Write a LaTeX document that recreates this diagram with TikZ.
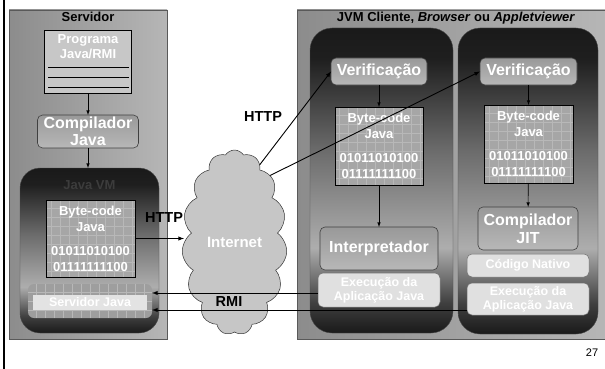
\documentclass[tikz,border=0pt]{standalone}
\usepackage{fontspec}
\setmainfont{Liberation Sans}
\usetikzlibrary{shapes,arrows,positioning,calc,shapes.symbols}

\definecolor{panelL}{HTML}{8C8C8C}
\definecolor{panelR}{HTML}{B6B6B6}
\definecolor{codefill}{HTML}{A6A6A6}
\definecolor{codegrid}{HTML}{B8B8B8}
\definecolor{lightfill}{HTML}{E0E0E0}
\definecolor{cloudfill}{HTML}{C6C6C6}
\definecolor{vmtext}{HTML}{3C3C3C}

% sombreamento das caixas da JVM (escuro em cima e em baixo)
\pgfdeclareverticalshading{vmshade}{100bp}{color(0bp)=(black!90); color(25bp)=(black!90); color(30bp)=(black!75);
  color(39bp)=(black!32); color(55bp)=(black!58); color(70bp)=(black!88); color(75bp)=(black!90); color(100bp)=(black!90)}

\tikzset{
  every node/.style={inner sep=0pt, outer sep=0pt},
  panel/.style={draw=black!65, line width=0.6pt, left color=panelL, right color=panelR},
  vmbox/.style={draw=black!70, rounded corners=20pt, shading=vmshade},
  btn/.style={draw=black!75, line width=0.6pt, rounded corners=5pt, top color=black!40, middle color=black!90, bottom color=black!28,
    text=white, align=center, font=\fontsize{16}{16.5}\selectfont\bfseries},
  codebox/.style={draw=black, line width=0.6pt, fill=codefill, text=white, align=center,
    font=\fontsize{13}{16}\selectfont\bfseries,
    path picture={\draw[codegrid, line width=0.3pt] (path picture bounding box.south west) grid[step=9pt] (path picture bounding box.north east);}},
  lightbox/.style={draw=black!55, line width=0.5pt, rounded corners=5pt, fill=lightfill, text=white, align=center,
    font=\fontsize{12.5}{14}\selectfont\bfseries},
  ttl/.style={font=\fontsize{13}{15}\selectfont\bfseries},
  lbl/.style={font=\fontsize{14.5}{16}\selectfont\bfseries},
  link/.style={->, line width=0.9pt},
  step arrow/.style={->, line width=0.6pt}
}

\begin{document}
\begin{tikzpicture}[x=1pt, y=-1pt, >=latex]
  \useasboundingbox (0,0) rectangle (605,369);

  % barra lateral
  \draw[line width=1.8pt] (4,0) -- (4,369);

  % ---- servidor
  \node (srvpanel) at (88,174.5) [panel, minimum width=158pt, minimum height=329pt] {};
  \node (srvtitle) at (88,17) [ttl] {Servidor};

  \node (prog) at (88,61.5) [draw, line width=0.6pt, fill=black!22, minimum width=87pt, minimum height=63pt] {};
  \node (progtxt) [below=4.5pt of prog.north, text=white, align=center, font=\fontsize{13}{15}\selectfont\bfseries] {Programa\\Java/RMI};
  \foreach \ly in {67,77,87}
    \draw[line width=0.6pt] (48,\ly) -- (129,\ly);

  \node (comp) at (88,131.5) [btn, minimum width=101pt, minimum height=33pt] {Compilador\\Java};

  \node (jvm) at (89.5,250.5) [vmbox, minimum width=139pt, minimum height=165pt] {};
  \node (jvmtxt) at (89.5,185) [ttl, text=vmtext] {Java VM};
  \node (code0) at (90.5,238.5) [codebox, minimum width=89pt, minimum height=77pt] {Byte-code\\Java\\[8pt]01011010100\\01111111100};
  \node (srvstrip) at (90,301) [rounded corners=6pt, fill=black!38,
    path picture={\draw[codegrid, line width=0.3pt] (path picture bounding box.south west) grid[step=9pt] (path picture bounding box.north east);},
    minimum width=124pt, minimum height=34pt] {};
  \node (srvjava) at (90,302) [fill=lightfill!90!white, text=white, minimum width=114pt, minimum height=15pt,
    font=\fontsize{12.5}{14}\selectfont\bfseries] {Servidor Java};

  \draw[step arrow] (prog) -- (comp);
  \draw[step arrow] (comp.south) -- (comp.south |- jvm.north);

  % ---- internet
  \node (net) at (234.5,242.5) [cloud, cloud puffs=15, cloud puff arc=115, aspect=0.57, draw=black!80, line width=0.5pt,
    fill=cloudfill, minimum width=105pt, minimum height=185pt, text=white, font=\fontsize{15}{16}\selectfont\bfseries] {Internet};

  % ---- cliente
  \node (clipanel) at (452,174.5) [panel, minimum width=310pt, minimum height=329pt] {};
  \node (clititle) at (456,18) [ttl] {JVM Cliente, \textit{Browser} ou \textit{Appletviewer}};

  \node (vmA) at (381.5,180.5) [vmbox, rounded corners=22pt, minimum width=143pt, minimum height=305pt] {};
  \node (vmB) at (528,181) [vmbox, rounded corners=22pt, minimum width=140pt, minimum height=306pt] {};

  \node (ver1) at (379,71.5) [btn, minimum width=96pt, minimum height=27pt] {Verificação};
  \node (code1) at (379,146) [codebox, minimum width=88pt, minimum height=78pt] {Byte-code\\Java\\[8pt]01011010100\\01111111100};
  \node (interp) at (379,248.5) [btn, minimum width=118pt, minimum height=43pt] {Interpretador};
  \node (exec1) at (379,290) [lightbox, minimum width=122pt, minimum height=34pt] {Execução da\\Aplicação Java};

  \node (ver2) at (528.5,71.5) [btn, minimum width=97pt, minimum height=27pt] {Verificação};
  \node (code2) at (528.5,144) [codebox, minimum width=89pt, minimum height=78pt] {Byte-code\\Java\\[8pt]01011010100\\01111111100};
  \node (jit) at (528,228.5) [btn, minimum width=100pt, minimum height=43pt, font=\fontsize{16}{18}\selectfont\bfseries] {Compilador\\JIT};
  \node (nativo) at (528,265.5) [lightbox, minimum width=122pt, minimum height=23pt] {Código Nativo};
  \node (exec2) at (528,299) [lightbox, minimum width=122pt, minimum height=32pt] {Execução da\\Aplicação Java};

  \draw[step arrow] (ver1) -- (code1);
  \draw[step arrow] (code1) -- (interp);
  \draw[step arrow] (ver2) -- (code2);
  \draw[step arrow] (code2) -- (jit);

  % ---- ligacoes
  \draw[link] (code0.east) -- (code0.east -| net.west);
  \node (httpA) at (164,218) [lbl] {HTTP};
  \draw[link] (net.72) -- (ver1.west);
  \draw[link] (net.62) -- (ver2.west);
  \node (httpB) at (263,117) [lbl] {HTTP};

  \coordinate (rmiA) at ([yshift=-3pt]exec1.west);
  \coordinate (rmiB) at ([yshift=-11pt]exec2.west);
  \draw[link] (rmiA) -- (rmiA -| srvstrip.east);
  \draw[link] (rmiB) -- (rmiB -| srvstrip.east);
  \node (rmi) at (229,302) [lbl] {RMI};

  \node (pagenum) at (592,353) [font=\fontsize{11}{12}\selectfont] {27};
\end{tikzpicture}
\end{document}
